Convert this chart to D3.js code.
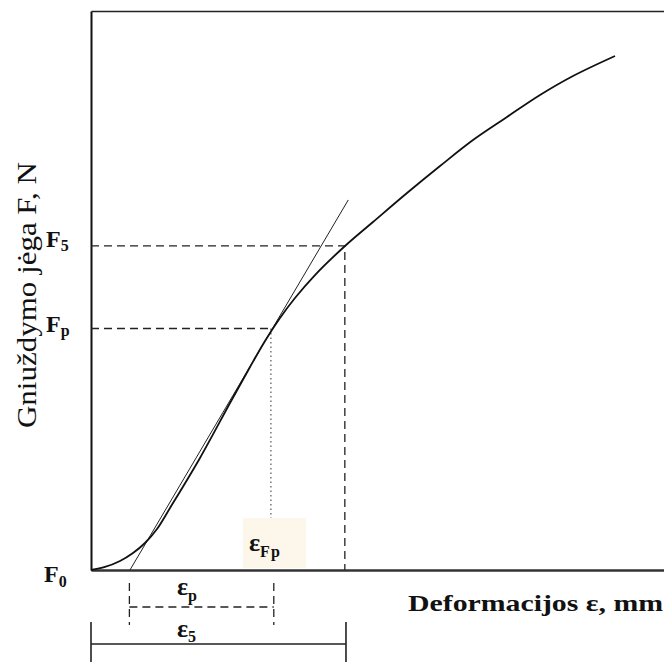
<!DOCTYPE html>
<meta charset="utf-8">
<head>
  <script type="text/javascript" src="https://cdnjs.cloudflare.com/ajax/libs/d3/7.8.5/d3.min.js"></script>
  <style>
    body { margin: 0; background: #fff; }
    .sym { font-family: "Liberation Serif", "Times New Roman", serif; font-weight: bold; fill: #111; }
    .ylab { font-family: "Liberation Serif", "Times New Roman", serif; fill: #111; }
    .dash { fill: none; stroke: #222; stroke-width: 1.3; stroke-dasharray: 8,5; }
  </style>
</head>
<body>
<script>
  // curve (deformation, mm / force, arbitrary units)
  var strain = [0, 0.244, 0.506, 0.733, 0.942, 1.152, 1.379, 1.902, 2.426, 2.775, 3.037, 3.298, 3.560, 3.909,
                4.433, 4.921, 5.515, 6.091, 6.667, 7.260, 7.836, 8.412, 9.145];
  var force  = [0, 0.54, 1.61, 3.04, 4.83, 7.33, 11.09, 20.04, 29.87, 36.31, 40.97, 45.08, 48.66, 52.77,
                57.96, 62.25, 67.44, 72.27, 76.92, 81.04, 84.97, 88.37, 91.95];

  // tangent at Fp
  var tanStrain = [0.68, 4.49];
  var tanForce  = [0, 66.2];

  // characteristic points
  var eFp = 3.14, Fp = 43.2;
  var e5 = 4.43, F5 = 58.0;
  var epStart = 0.67, epEnd = 3.19;

  var w = 664, h = 662;
  var svg = d3.select("body").append("svg").attr("width", w).attr("height", h);

  var x = d3.scaleLinear().domain([0, 10]).range([91, 664]);
  var y = d3.scaleLinear().domain([0, 100]).range([570, 11]);

  // frame (top + left) and bottom axis
  svg.append("g").attr("transform", "translate(0," + y(100) + ")")
     .call(d3.axisTop(x).tickValues([]).tickSizeOuter(0))
     .select(".domain").attr("stroke", "#222").attr("stroke-width", 1.5);
  svg.append("g").attr("transform", "translate(" + x(0) + ",0)")
     .call(d3.axisLeft(y).tickValues([]).tickSizeOuter(0))
     .select(".domain").attr("stroke", "#111").attr("stroke-width", 2);

  // eFp label box
  svg.append("rect").attr("x", 243).attr("y", 518).attr("width", 63).attr("height", 50).attr("fill", "#fdf6ea");

  svg.append("g").attr("transform", "translate(0," + y(0) + ")")
     .call(d3.axisBottom(x).tickValues([]).tickSizeOuter(0))
     .select(".domain").attr("stroke", "#333").attr("stroke-width", 2.5);

  // dashed guides
  svg.append("path").attr("class", "dash")
     .attr("d", "M" + x(0) + "," + y(F5) + "H" + x(e5) + "V" + y(0));
  svg.append("path").attr("class", "dash")
     .attr("d", "M" + x(0) + "," + y(Fp) + "H" + x(eFp));
  svg.append("line").attr("x1", x(eFp)).attr("x2", x(eFp)).attr("y1", y(Fp)).attr("y2", 518)
     .attr("stroke", "#333").attr("stroke-width", 1).attr("stroke-dasharray", "1.5,3");

  // tangent
  svg.append("line")
     .attr("x1", x(tanStrain[0])).attr("y1", y(tanForce[0]))
     .attr("x2", x(tanStrain[1])).attr("y2", y(tanForce[1]))
     .attr("stroke", "#222").attr("stroke-width", 1);

  // curve
  var line = d3.line().x(function(d, i) { return x(strain[i]); })
                      .y(function(d, i) { return y(force[i]); })
                      .curve(d3.curveCatmullRom.alpha(0.5));
  svg.append("path").datum(strain).attr("d", line)
     .attr("fill", "none").attr("stroke", "#111").attr("stroke-width", 1.8);

  // ep dimension (dashed)
  svg.append("path").attr("class", "dash").attr("d",
     "M" + x(epStart) + ",583V625M" + x(epEnd) + ",583V625M" + x(epStart) + ",607H" + x(epEnd));

  // e5 dimension (solid)
  svg.append("path").attr("fill", "none").attr("stroke", "#222").attr("stroke-width", 1.6)
     .attr("d", "M" + x(0) + ",622V662M" + x(e5 + 0.02) + ",622V662M" + x(0) + ",644H" + x(e5 + 0.02));

  // labels
  function sym(px, py, main, sub, size, subSize, dy, cls) {
    var t = svg.append("text").attr("class", cls || "sym").attr("x", px).attr("y", py).attr("font-size", size);
    t.append("tspan").text(main);
    t.append("tspan").attr("font-size", subSize).attr("dy", dy).text(sub);
    return t;
  }
  sym(46, y(F5) + 1, "F", "5", 24, 16, 4);
  sym(46, y(Fp) + 3, "F", "p", 24, 16, 4);
  sym(44, 582, "F", "0", 24, 16, 5);

  sym(249, 551, "\u03b5", "Fp", 26, 16, 6).select("tspan:last-child").attr("letter-spacing", 1);
  sym(177, 595, "\u03b5", "p", 26, 16, 6);
  sym(177, 637, "\u03b5", "5", 26, 16, 5);

  svg.append("text").attr("class", "sym").attr("x", 408).attr("y", 611)
     .attr("font-size", 24).attr("textLength", 255).attr("lengthAdjust", "spacingAndGlyphs")
     .text("Deformacijos \u03b5, mm");

  svg.append("text").attr("class", "ylab")
     .attr("transform", "translate(36,295) rotate(-90)")
     .attr("text-anchor", "middle").attr("font-size", 28)
     .attr("textLength", 266).attr("lengthAdjust", "spacingAndGlyphs")
     .text("Gniuždymo jėga F, N");
</script>
</body>
